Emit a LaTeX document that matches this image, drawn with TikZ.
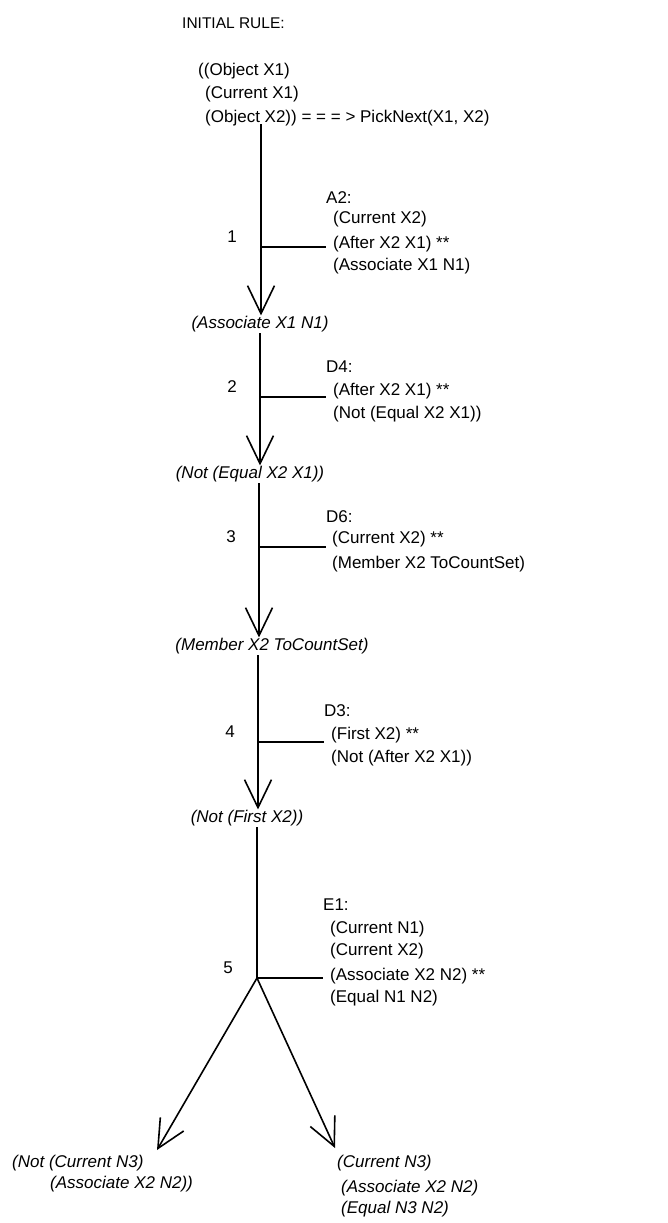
\documentclass[tikz,border=0pt]{standalone}
\usepackage{fontspec}
\setmainfont{Liberation Sans}
\usetikzlibrary{arrows.meta}
\begin{document}
\begin{tikzpicture}[x=1pt,y=-1pt,
  txt/.style={anchor=base west,inner sep=0pt,font=\fontsize{17}{20}\selectfont},
  fact/.style={anchor=base,inner sep=0pt,font=\fontsize{17}{20}\selectfont\itshape},
  factl/.style={anchor=base west,inner sep=0pt,font=\fontsize{17}{20}\selectfont\itshape},
  num/.style={anchor=base,inner sep=0pt,font=\fontsize{17}{20}\selectfont},
  stem/.style={line width=1.6pt},
  flow/.style={line width=1.6pt,-{Straight Barb[length=28pt,width=27pt]}}]
\useasboundingbox (0,0) rectangle (667,1223);

\node[txt,font=\fontsize{15.5}{18}\selectfont] (title) at (182,29) {INITIAL RULE:};
\node[txt] (r1) at (198,75) {((Object X1)};
\node[txt] (r2) at (205,98) {(Current X1)};
\node[txt] (r3) at (205,122) {(Object X2)) = = = > PickNext(X1, X2)};

\node[num] (n1) at (232,242) {1};
\node[txt] (a2) at (326,203) {A2:};
\node[txt] (a2a) at (333,223) {(Current X2)};
\node[txt] (a2b) at (333,248) {(After X2 X1) **};
\node[txt] (a2c) at (333,270) {(Associate X1 N1)};
\node[fact] (f1) at (260,328) {(Associate X1 N1)};

\node[num] (n2) at (232,392) {2};
\node[txt] (d4) at (326,372) {D4:};
\node[txt] (d4a) at (333,395) {(After X2 X1) **};
\node[txt] (d4b) at (333,418) {(Not (Equal X2 X1))};
\node[fact] (f2) at (250,478) {(Not (Equal X2 X1))};

\node[num] (n3) at (231,542) {3};
\node[txt] (d6) at (326,522) {D6:};
\node[txt] (d6a) at (332,543) {(Current X2) **};
\node[txt] (d6b) at (332,568) {(Member X2 ToCountSet)};
\node[fact] (f3) at (272,650) {(Member X2 ToCountSet)};

\node[num] (n4) at (230,737) {4};
\node[txt] (d3) at (324,716) {D3:};
\node[txt] (d3a) at (331,739) {(First X2) **};
\node[txt] (d3b) at (331,762) {(Not (After X2 X1))};
\node[fact] (f4) at (247,822) {(Not (First X2))};

\node[num] (n5) at (228,973) {5};
\node[txt] (e1) at (323,910) {E1:};
\node[txt] (e1a) at (330,933) {(Current N1)};
\node[txt] (e1b) at (330,955) {(Current X2)};
\node[txt] (e1c) at (330,980) {(Associate X2 N2) **};
\node[txt] (e1d) at (330,1002) {(Equal N1 N2)};

\node[factl] (l1) at (12,1167) {(Not (Current N3)};
\node[factl] (l2) at (50,1188) {(Associate X2 N2))};
\node[factl] (g1) at (337,1167) {(Current N3)};
\node[factl] (g2) at (341,1192) {(Associate X2 N2)};
\node[factl] (g3) at (341,1213) {(Equal N3 N2)};

\coordinate (t1) at (261,124);
\coordinate (t2) at (260,333);
\coordinate (t3) at (259,483);
\coordinate (t4) at (258,655);
\coordinate (t5) at (257,827);
\coordinate (b1) at (261,247);
\coordinate (b2) at (260,397);
\coordinate (b3) at (259,547);
\coordinate (b4) at (258,742);
\coordinate (fk) at (257,978);
\coordinate (tl) at (157,1150);
\coordinate (tr) at (335,1148);

\draw[flow] (t1) -- (t1 |- f1.north);
\draw[flow] (t2) -- (t2 |- f2.north);
\draw[flow] (t3) -- (t3 |- f3.north);
\draw[flow] (t4) -- (t4 |- f4.north);
\draw[stem] (t5) -- (fk);
\draw[stem] (b1) -- (b1 -| a2.west);
\draw[stem] (b2) -- (b2 -| d4.west);
\draw[stem] (b3) -- (b3 -| d6.west);
\draw[stem] (b4) -- (b4 -| d3.west);
\draw[stem] (fk) -- (fk -| e1.west);
\draw[flow] (fk) -- (tl);
\draw[flow] (fk) -- (tr);

\end{tikzpicture}
\end{document}
